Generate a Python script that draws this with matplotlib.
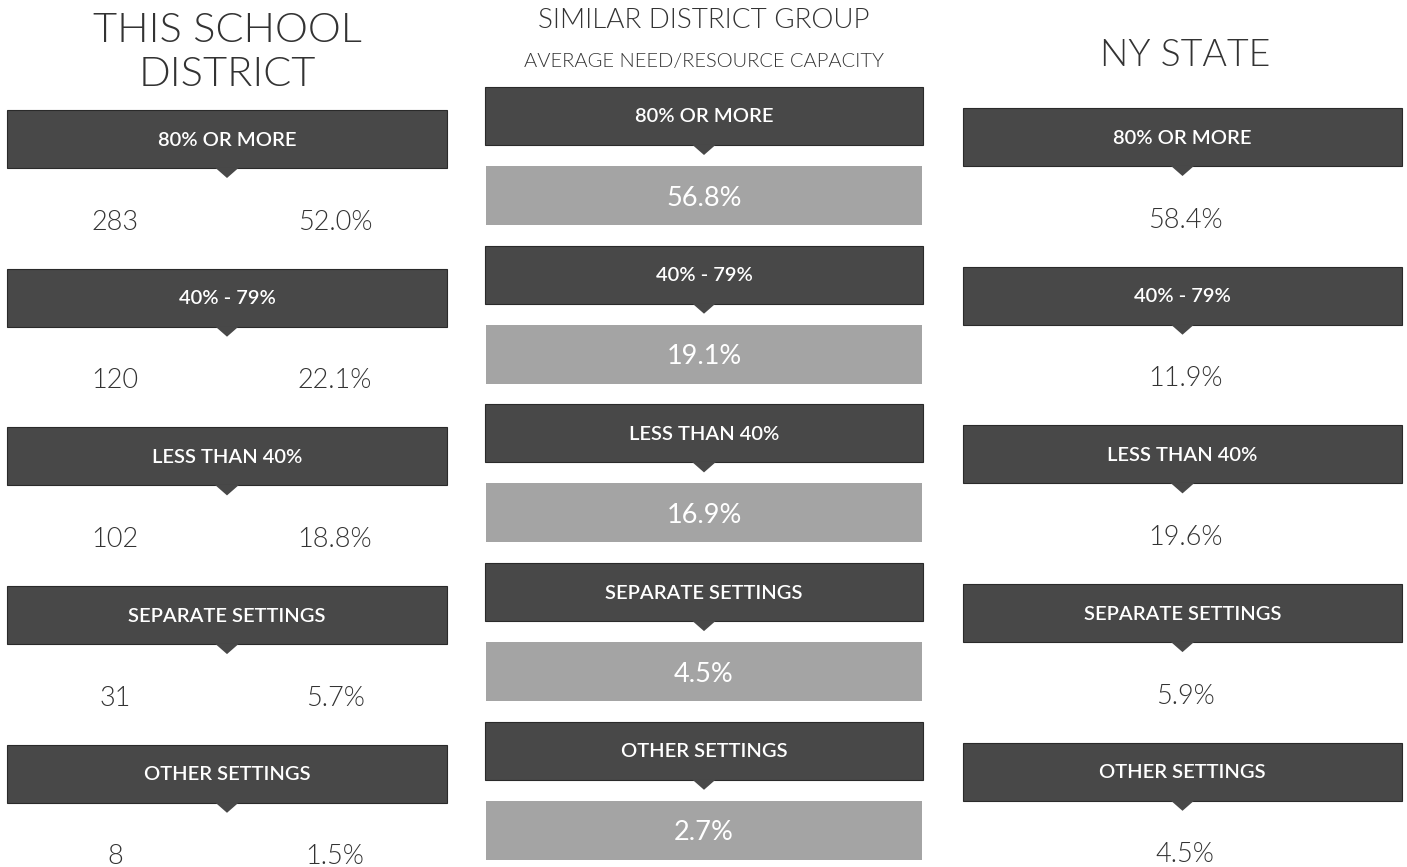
import matplotlib
matplotlib.use("Agg")
import matplotlib.pyplot as plt
from matplotlib.patches import Rectangle, Polygon

plt.rcParams['font.family'] = ['Lato', 'DejaVu Sans']

categories = ["80% OR MORE", "40% - 79%", "LESS THAN 40%", "SEPARATE SETTINGS", "OTHER SETTINGS"]
district_counts = ["283", "120", "102", "31", "8"]
district_pcts = ["52.0%", "22.1%", "18.8%", "5.7%", "1.5%"]
similar_pcts = ["56.8%", "19.1%", "16.9%", "4.5%", "2.7%"]
state_pcts = ["58.4%", "11.9%", "19.6%", "5.9%", "4.5%"]

W, H = 1407, 867
fig = plt.figure(figsize=(W / 100, H / 100), dpi=100)
ax = fig.add_axes([0, 0, 1, 1])
ax.set_xlim(0, W)
ax.set_ylim(H, 0)
ax.axis('off')

DARK = '#484848'
EDGE = '#2a2a2a'
GREY = '#a4a4a4'
TXT = '#333333'
STEP = 158.7
LW = 300

def dark_bar(x0, x1, y0, y1, label):
    ax.add_patch(Rectangle((x0, y0), x1 - x0, y1 - y0, facecolor=DARK,
                           edgecolor=EDGE, linewidth=0.8, zorder=2))
    cx = (x0 + x1) / 2
    ax.add_patch(Polygon([(cx - 12, y1 - 0.5), (cx + 12, y1 - 0.5), (cx, y1 + 10)],
                         closed=True, facecolor=DARK, edgecolor='none', zorder=3))
    ax.text(cx, (y0 + y1) / 2 + 1, label, color='white', fontsize=14.5,
            fontweight='semibold', ha='center', va='center', zorder=4)

# Column titles
ax.text(227, 30, "THIS SCHOOL", fontsize=30, fontweight=LW, color=TXT,
        ha='center', va='center')
ax.text(227, 74, "DISTRICT", fontsize=30, fontweight=LW, color=TXT,
        ha='center', va='center')
ax.text(704, 20, "SIMILAR DISTRICT GROUP", fontsize=20, fontweight=LW,
        color=TXT, ha='center', va='center')
ax.text(704, 62, "AVERAGE NEED/RESOURCE CAPACITY", fontsize=14.5, fontweight=LW,
        color=TXT, ha='center', va='center')
ax.text(1185, 56, "NY STATE", fontsize=27, fontweight=LW, color=TXT,
        ha='center', va='center')

for i, cat in enumerate(categories):
    # Left: this school district
    y0 = 110 + i * STEP
    dark_bar(7, 447, y0, y0 + 58, cat)
    ax.text(115, y0 + 112, district_counts[i], fontsize=19.5, fontweight=LW,
            color=TXT, ha='center', va='center')
    ax.text(335, y0 + 112, district_pcts[i], fontsize=19.5, fontweight=LW,
            color=TXT, ha='center', va='center')

    # Middle: similar district group
    y0 = 87 + i * STEP
    dark_bar(485, 923, y0, y0 + 58, cat)
    ax.add_patch(Rectangle((486, y0 + 79), 436, 59, facecolor=GREY,
                           edgecolor='none', zorder=2))
    ax.text(704, y0 + 111, similar_pcts[i], fontsize=19.5, color='white',
            ha='center', va='center', zorder=4)

    # Right: NY state
    y0 = 108 + i * STEP
    dark_bar(963, 1402, y0, y0 + 58, cat)
    ax.text(1185, y0 + 112, state_pcts[i], fontsize=19.5, fontweight=LW,
            color=TXT, ha='center', va='center')

fig.savefig("out.png", dpi=100, facecolor='white')
